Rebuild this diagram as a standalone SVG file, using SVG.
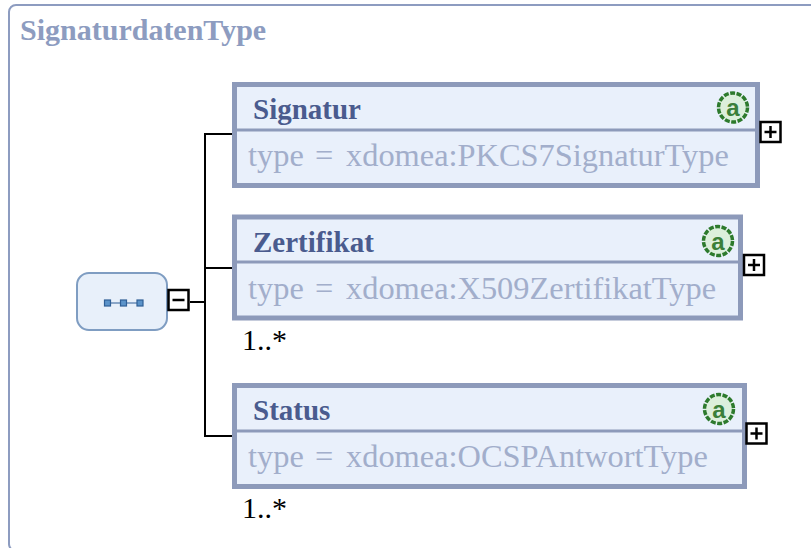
<svg xmlns="http://www.w3.org/2000/svg" width="811" height="548" viewBox="0 0 811 548">
<style>
.frame{fill:#ffffff;stroke:#8d9cc0;stroke-width:2}
.ftitle{font-family:"Liberation Serif",serif;font-weight:bold;font-size:30px;fill:#8d9cc0}
.box{fill:#e9f0fb;stroke:#8d9aba;stroke-width:5}
.sep{stroke:#8d9aba;stroke-width:3}
.name{font-family:"Liberation Serif",serif;font-weight:bold;font-size:29px;fill:#4a5b8e}
.type{font-family:"Liberation Serif",serif;font-size:32.4px;fill:#a2aecb}
.occ{font-family:"Liberation Serif",serif;font-size:30px;fill:#000}
.btn{fill:#fff;stroke:#000;stroke-width:2.5}
.btnl{stroke:#000;stroke-width:2.5}
.conn{stroke:#000;stroke-width:2;fill:none}
.attr{fill:#dcefdc;stroke:#2d7a2d;stroke-width:3.5;stroke-dasharray:5 1.5}
.attrt{font-family:"Liberation Sans",sans-serif;font-weight:bold;font-size:24px;fill:#3a7f3a;text-anchor:middle}
.seq{fill:#e8f0fa;stroke:#7f9dc2;stroke-width:2}
.sq{fill:#5b93c9;stroke:#2f5f96;stroke-width:1.2}
</style>
<rect class="frame" x="9" y="5" width="820" height="546" rx="7"/>
<text class="ftitle" x="20" y="40">SignaturdatenType</text>

<g id="connectors">
<line class="conn" x1="190" y1="302" x2="205" y2="302"/>
<line class="conn" x1="205" y1="134" x2="205" y2="436"/>
<line class="conn" x1="204" y1="134" x2="233" y2="134"/>
<line class="conn" x1="205" y1="268" x2="233" y2="268"/>
<line class="conn" x1="204" y1="436" x2="233" y2="436"/>
</g>

<g id="root">
<rect class="seq" x="77" y="273" width="90" height="57" rx="12"/>
<line x1="107" y1="303" x2="140" y2="303" stroke="#8aa6c8" stroke-width="2"/>
<rect class="sq" x="104.5" y="300" width="6" height="6"/>
<rect class="sq" x="120.5" y="300" width="6" height="6"/>
<rect class="sq" x="137" y="300" width="6" height="6"/>
<rect class="btn" x="168.5" y="290" width="20" height="20"/>
<line class="btnl" x1="172.5" y1="300" x2="184.5" y2="300"/>
</g>

<g id="signatur">
<rect class="box" x="234.5" y="84.5" width="523" height="101"/>
<line class="sep" x1="237" y1="130" x2="755" y2="130"/>
<text class="name" x="253" y="119">Signatur</text>
<text class="type" y="166"><tspan x="248">type</tspan><tspan x="315">=</tspan><tspan x="346">xdomea:PKCS7SignaturType</tspan></text>
<circle class="attr" cx="733" cy="107.5" r="14.5"/>
<text class="attrt" x="733" y="116">a</text>
<rect class="btn" x="760.5" y="122" width="20" height="20"/>
<line class="btnl" x1="764.5" y1="132" x2="776.5" y2="132"/>
<line class="btnl" x1="770.5" y1="126" x2="770.5" y2="138"/>
</g>

<g id="zertifikat">
<rect class="box" x="234.5" y="217" width="506" height="101"/>
<line class="sep" x1="237" y1="262" x2="738" y2="262"/>
<text class="name" x="253" y="252">Zertifikat</text>
<text class="type" y="299"><tspan x="248">type</tspan><tspan x="315">=</tspan><tspan x="346">xdomea:X509ZertifikatType</tspan></text>
<circle class="attr" cx="718" cy="241" r="14.5"/>
<text class="attrt" x="718" y="249.5">a</text>
<rect class="btn" x="744" y="255" width="20" height="20"/>
<line class="btnl" x1="748" y1="265" x2="760" y2="265"/>
<line class="btnl" x1="754" y1="259" x2="754" y2="271"/>
<text class="occ" x="242" y="350">1..*</text>
</g>

<g id="status">
<rect class="box" x="234.5" y="385.5" width="510" height="101"/>
<line class="sep" x1="237" y1="431" x2="742" y2="431"/>
<text class="name" x="253" y="420">Status</text>
<text class="type" y="467"><tspan x="248">type</tspan><tspan x="315">=</tspan><tspan x="346">xdomea:OCSPAntwortType</tspan></text>
<circle class="attr" cx="719" cy="409" r="14.5"/>
<text class="attrt" x="719" y="417.5">a</text>
<rect class="btn" x="746.5" y="423.5" width="20" height="20"/>
<line class="btnl" x1="750.5" y1="433.5" x2="762.5" y2="433.5"/>
<line class="btnl" x1="756.5" y1="427.5" x2="756.5" y2="439.5"/>
<text class="occ" x="242" y="518">1..*</text>
</g>
</svg>
